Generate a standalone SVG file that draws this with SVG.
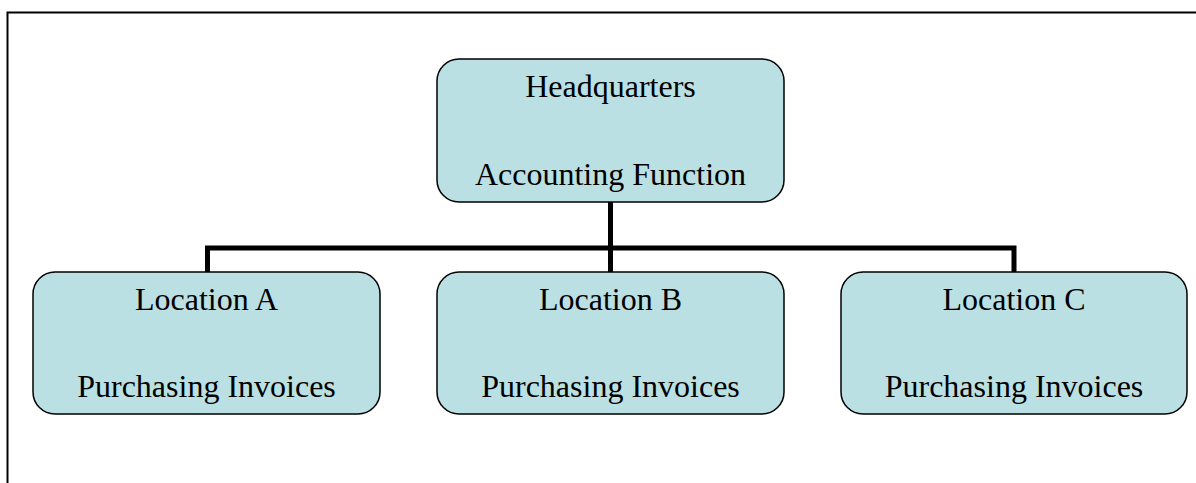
<svg xmlns="http://www.w3.org/2000/svg" width="1196" height="483" viewBox="0 0 1196 483">
<style>
.box{fill:#BBE0E3;stroke:#000;stroke-width:1.5}
.t{font-family:"Liberation Serif","Times New Roman",serif;font-size:32px;fill:#000;text-anchor:middle}
.c{fill:none;stroke:#000;stroke-width:5}
</style>
<rect width="1196" height="483" fill="#fff"/>
<path d="M7.5,483 V12.5 H1196" fill="none" stroke="#000" stroke-width="2"/>
<g id="connectors">
<path class="c" d="M610.5,202 V248"/>
<path class="c" d="M207.5,272 V248 H1014 V272"/>
<path class="c" d="M610.5,248 V272"/>
</g>
<g id="hq">
<rect class="box" x="437" y="59" width="347" height="143" rx="22"/>
<text class="t" x="610.5" y="97">Headquarters</text>
<text class="t" x="610.5" y="185">Accounting Function</text>
</g>
<g id="locA">
<rect class="box" x="33" y="272" width="347" height="142" rx="22"/>
<text class="t" x="206.5" y="310">Location A</text>
<text class="t" x="206.5" y="397">Purchasing Invoices</text>
</g>
<g id="locB">
<rect class="box" x="437" y="272" width="347" height="142" rx="22"/>
<text class="t" x="610.5" y="310">Location B</text>
<text class="t" x="610.5" y="397">Purchasing Invoices</text>
</g>
<g id="locC">
<rect class="box" x="841" y="272" width="346" height="142" rx="22"/>
<text class="t" x="1014" y="310">Location C</text>
<text class="t" x="1014" y="397">Purchasing Invoices</text>
</g>
</svg>
